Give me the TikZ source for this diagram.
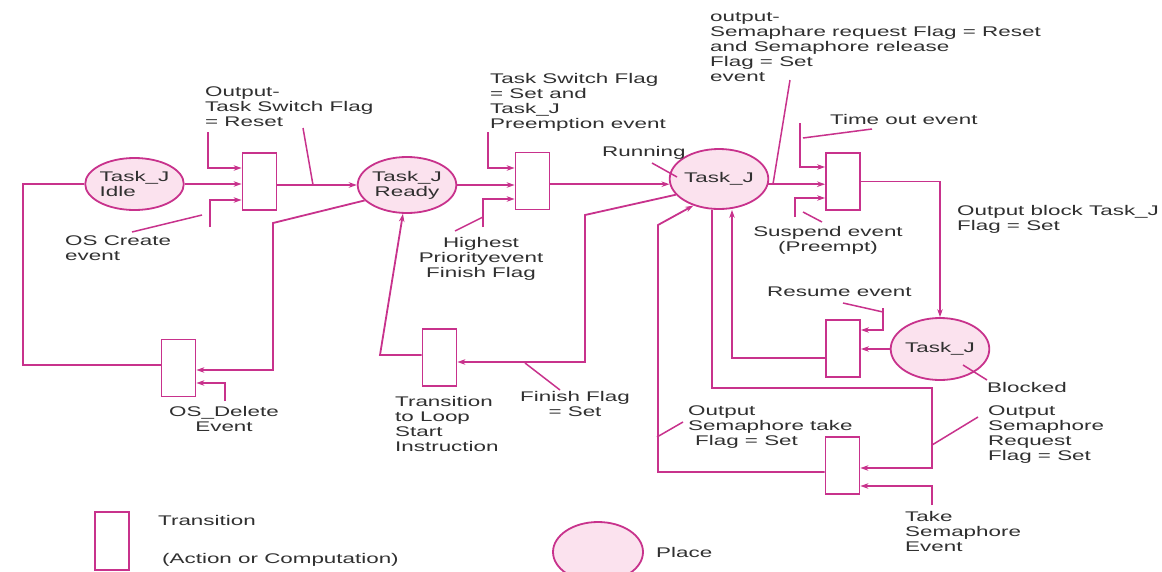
\documentclass[tikz,border=0pt]{standalone}
\usepackage{fontspec}
\setmainfont{Liberation Sans}[FakeStretch=1.6]
\usetikzlibrary{shapes.geometric,arrows.meta}
\definecolor{pk}{RGB}{200,50,140}
\definecolor{pkfill}{RGB}{251,226,238}
\definecolor{txt}{RGB}{48,48,48}
\newcommand\lblfont{\fontsize{14}{15}\selectfont}
\tikzset{
  wire/.style={draw=pk, line width=1.8pt},
  arr/.style={wire, -{Stealth[length=8pt,width=5.5pt]}},
  ptr/.style={draw=pk, line width=1.5pt},
  place/.style={ellipse, draw=pk, line width=1.8pt, fill=pkfill, inner sep=0pt,
    minimum width=95pt, minimum height=56pt, font=\lblfont, text=txt, align=left},
  trans/.style={rectangle, draw=pk, line width=1.8pt, inner sep=0pt,
    minimum width=34pt, minimum height=57pt},
  lbl/.style={font=\lblfont, text=txt, inner sep=0pt, align=left, anchor=north west},
  clbl/.style={font=\lblfont, text=txt, inner sep=0pt, align=center, anchor=north}
}
\begin{document}
\begin{tikzpicture}[x=1pt,y=-1pt]
\useasboundingbox (0,0) rectangle (1162,571);
\fill[white] (0,0) rectangle (1162,571);

% places
\node[place, minimum height=52pt] (idle) at (134.5,184) {Task\_J\\Idle};
\node[place, align=center] (ready) at (407,185) {Task\_J\\Ready};
\node[place, minimum width=96pt, minimum height=60pt] (run) at (719,179) {Task\_J};
\node[place, minimum width=94pt, minimum height=62pt] (blk) at (940,349) {Task\_J};

% transitions
\node[trans] (t1) at (259.5,181.5) {};
\node[trans] (t2) at (532.5,181) {};
\node[trans] (t3) at (843,181.5) {};
\node[trans] (t4) at (843,348.5) {};
\node[trans] (t5) at (842.5,465.5) {};
\node[trans] (t6) at (439.5,357.5) {};
\node[trans] (t7) at (178.5,368) {};

% coordinates
\coordinate (a1) at (208,132); \coordinate (a2) at (208,168);
\coordinate (b1) at (210,227); \coordinate (b2) at (210,200);
\coordinate (p1a) at (132,232); \coordinate (p1b) at (202,215);
\coordinate (p2a) at (303,128); \coordinate (p2b) at (313,185);
\coordinate (ltop) at (23,184); \coordinate (lbot) at (23,365);
\coordinate (r7a) at (273,223); \coordinate (r7b) at (273,370);
\coordinate (d1) at (225,401); \coordinate (d2) at (225,383);
\coordinate (c1) at (488,132); \coordinate (c2) at (488,168);
\coordinate (e1) at (483,227); \coordinate (e2) at (483,199);
\coordinate (p3a) at (455,231); \coordinate (p3b) at (483,217);
\coordinate (p4a) at (652,163); \coordinate (p4b) at (677,177);
\coordinate (p5a) at (790,80); \coordinate (p5b) at (773,184);
\coordinate (f1) at (800,123); \coordinate (f2) at (800,167);
\coordinate (p6a) at (803,138); \coordinate (p6b) at (872,129);
\coordinate (g1) at (795,217); \coordinate (g2) at (795,198);
\coordinate (p7a) at (803,212); \coordinate (p7b) at (822,222);
\coordinate (h1) at (883,308); \coordinate (h2) at (883,330);
\coordinate (p8a) at (843,303); \coordinate (p8b) at (883,312);
\coordinate (p9a) at (963,365); \coordinate (p9b) at (987,380);
\coordinate (k1) at (732,358);
\coordinate (s1) at (712,388); \coordinate (s2) at (932,388); \coordinate (s3) at (932,468);
\coordinate (p10a) at (932,445); \coordinate (p10b) at (978,417);
\coordinate (m1) at (932,505); \coordinate (m2) at (932,486);
\coordinate (n1) at (658,472); \coordinate (n2) at (658,225);
\coordinate (p11a) at (657,437); \coordinate (p11b) at (683,422);
\coordinate (q1) at (585,215); \coordinate (q2) at (585,362);
\coordinate (p12a) at (525,363); \coordinate (p12b) at (560,390);
\coordinate (u1) at (380,355);

% connectors
\draw[arr] (idle.east) -- (idle.east -| t1.west);
\draw[arr] (a1) -- (a2) -- (a2 -| t1.west);
\draw[arr] (b1) -- (b2) -- (b2 -| t1.west);
\draw[ptr] (p1a) -- (p1b);
\draw[arr] (ready.west -| t1.east) -- (ready.west);
\draw[ptr] (p2a) -- (p2b);
\draw[wire] (idle.west) -- (ltop) -- (lbot) -- (lbot -| t7.west);
\draw[arr] (ready.200) -- (r7a) -- (r7b) -- (r7b -| t7.east);
\draw[arr] (d1) -- (d2) -- (d2 -| t7.east);
\draw[arr] (ready.east) -- (ready.east -| t2.west);
\draw[arr] (c1) -- (c2) -- (c2 -| t2.west);
\draw[arr] (e1) -- (e2) -- (e2 -| t2.west);
\draw[ptr] (p3a) -- (p3b);
\draw[arr] (run.186 -| t2.east) -- (run.186);
\draw[ptr] (p4a) -- (p4b);
\draw[arr] (run.354) -- (run.354 -| t3.west);
\draw[ptr] (p5a) -- (p5b);
\draw[arr] (f1) -- (f2) -- (f2 -| t3.west);
\draw[ptr] (p6a) -- (p6b);
\draw[arr] (g1) -- (g2) -- (g2 -| t3.west);
\draw[ptr] (p7a) -- (p7b);
\draw[arr] (t3.east) -| (blk.north);
\draw[arr] (blk.west) -- (blk.west -| t4.east);
\draw[arr] (h1) -- (h2) -- (h2 -| t4.east);
\draw[ptr] (p8a) -- (p8b);
\draw[ptr] (p9a) -- (p9b);
\draw[arr] (k1 -| t4.west) -- (k1) -- (k1 |- run.south);
\draw[arr] (s1 |- run.south) -- (s1) -- (s2) -- (s3) -- (s3 -| t5.east);
\draw[ptr] (p10a) -- (p10b);
\draw[arr] (m1) -- (m2) -- (m2 -| t5.east);
\draw[arr] (n1 -| t5.west) -- (n1) -- (n2) -- (run.226);
\draw[ptr] (p11a) -- (p11b);
\draw[arr] (run.200) -- (q1) -- (q2) -- (q2 -| t6.east);
\draw[ptr] (p12a) -- (p12b);
\draw[arr] (u1 -| t6.west) -- (u1) -- (ready.262);

% labels
\node[lbl] (L1) at (205,87) {Output-\\Task Switch Flag\\= Reset};
\node[lbl] (L2) at (65,236) {OS Create\\event};
\node[clbl] (L3) at (224,406) {OS\_Delete\\Event};
\node[lbl] (L4) at (490,73) {Task Switch Flag\\= Set and\\Task\_J\\Preemption event};
\node[clbl] (L5) at (481,237) {Highest\\Priorityevent\\Finish Flag};
\node[lbl] (L6) at (602,146) {Running};
\node[lbl] (L7) at (395,396) {Transition\\to Loop\\Start\\Instruction};
\node[clbl] (L8) at (575,391) {Finish Flag\\= Set};
\node[lbl] (L9) at (710,12) {output-\\Semaphare request Flag = Reset\\and Semaphore release\\Flag = Set\\event};
\node[lbl] (L10) at (830,114) {Time out event};
\node[clbl] (L11) at (828,226) {Suspend event\\(Preempt)};
\node[lbl] (L12) at (957,205) {Output block Task\_J\\Flag = Set};
\node[lbl] (L13) at (767,287) {Resume event};
\node[lbl] (L14) at (987,382) {Blocked};
\node[lbl] (L15) at (688,406) {Output\\Semaphore take\\\hspace*{7pt}Flag = Set};
\node[lbl] (L16) at (988,406) {Output\\Semaphore\\Request\\Flag = Set};
\node[lbl] (L17) at (905,511) {Take\\Semaphore\\Event};

% legend
\node[trans, minimum height=58pt] (lt) at (112,541) {};
\node[lbl] (L18) at (158,515) {Transition};
\node[lbl] (L19) at (162,553) {(Action or Computation)};
\node[place, minimum width=90pt, minimum height=60pt] (lp) at (598,552) {};
\node[lbl] (L20) at (656,547) {Place};
\end{tikzpicture}
\end{document}
